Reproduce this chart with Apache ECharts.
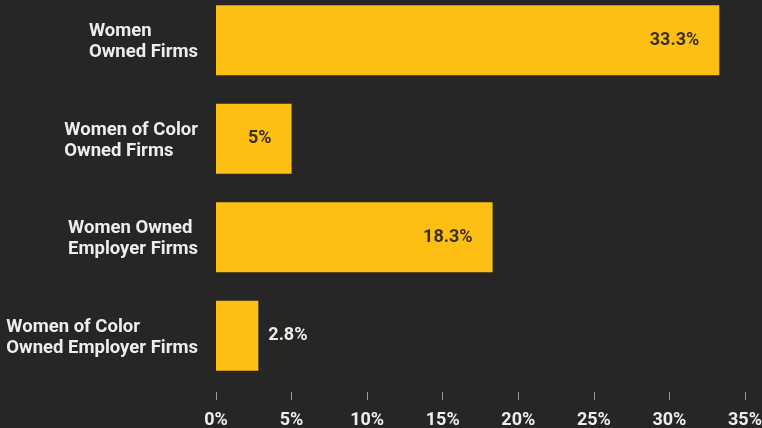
<!DOCTYPE html>
<html>
<head>
<meta charset="utf-8">
<script src="https://cdn.jsdelivr.net/npm/echarts@6/dist/echarts.min.js"></script>
<style>
  html, body { margin: 0; padding: 0; background: #262626; }
  #chart { width: 762px; height: 428px; }
</style>
</head>
<body>
<div id="chart"></div>
<script>
const categories = [
  'Women\nOwned Firms',
  'Women of Color\nOwned Firms',
  'Women Owned\nEmployer Firms',
  'Women of Color\nOwned Employer Firms'
]
const shares = [33.3, 5, 18.3, 2.8]
// bars too short to hold their label get it outside, in light text
const labelOutside = [false, false, false, true]

const yellow = '#FDBF14'
const lightText = '#EDEDED'

const chart = echarts.init(document.getElementById('chart'))

chart.setOption({
  backgroundColor: '#262626',
  textStyle: { fontFamily: 'Roboto' },
  grid: {
    left: 216, right: 17, top: -9, bottom: 43,
    containLabel: false,
    outerBoundsMode: 'none'
  },
  xAxis: {
    type: 'value',
    min: 0,
    max: 35,
    interval: 5,
    offset: 7,
    axisLine: { show: false },
    axisTick: { show: true, length: 8, lineStyle: { color: '#9a9a9a', width: 1 } },
    splitLine: { show: false },
    axisLabel: {
      margin: 19,
      color: lightText,
      fontSize: 18,
      fontWeight: 'bold',
      formatter: '{value}%'
    }
  },
  yAxis: {
    type: 'category',
    inverse: true,
    data: categories,
    axisLine: { show: false },
    axisTick: { show: false },
    axisLabel: {
      margin: 18,
      color: lightText,
      fontSize: 18.5,
      fontWeight: 'bold',
      lineHeight: 21,
      padding: [4, 0, 0, 0],
      formatter: (v) => v.split('\n').map((s) => '{l|' + s + '}').join('\n'),
      rich: {
        l: { align: 'left', color: lightText, fontSize: 18.5, fontWeight: 'bold', lineHeight: 21 }
      }
    }
  },
  series: [
    {
      type: 'bar',
      barCategoryGap: '29%',
      data: shares.map((v, i) => ({
        value: v,
        label: labelOutside[i]
          ? { position: 'right', distance: 10, color: lightText }
          : { position: 'insideRight', distance: 20, color: '#3a3120' }
      })),
      itemStyle: { color: yellow },
      label: {
        show: true,
        fontSize: 18,
        fontWeight: 'bold',
        formatter: '{c}%'
      }
    }
  ]
})
</script>
</body>
</html>
